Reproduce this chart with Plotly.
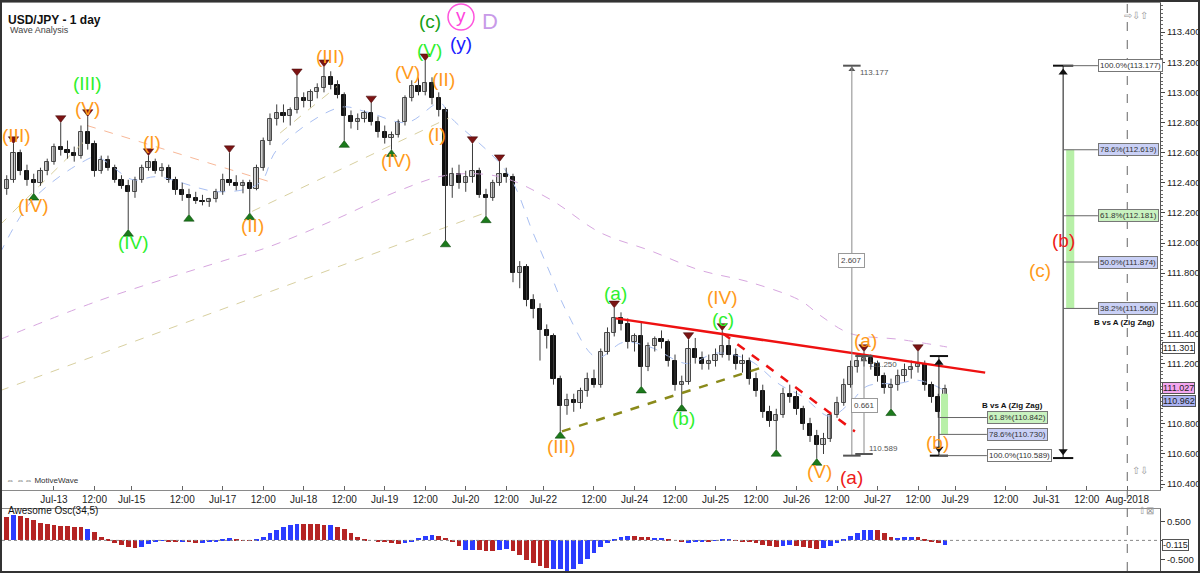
import plotly.graph_objects as go

# ---------------- data (2-hour bars, x = trading hours since Jul-13 00:00) ----------------
bar_hour = list(range(-16, 266, 2))
bar_open = [
    112.30, 112.36, 112.42, 112.60, 112.48, 112.42, 112.40, 112.48, 112.54, 112.64,
    112.62, 112.60, 112.58, 112.74, 112.66, 112.48, 112.55, 112.50, 112.42, 112.38,
    112.34, 112.42, 112.50, 112.54, 112.48, 112.50, 112.42, 112.35, 112.32, 112.30,
    112.28, 112.27, 112.29, 112.34, 112.42, 112.40, 112.38, 112.40, 112.36, 112.50,
    112.68, 112.82, 112.86, 112.84, 112.88, 112.96, 112.94, 113.00, 113.03, 113.10,
    113.05, 112.98, 112.84, 112.80, 112.82, 112.86, 112.80, 112.74, 112.70, 112.72,
    112.80, 112.96, 113.04, 113.00, 113.06, 112.96, 112.88, 112.38, 112.46, 112.40,
    112.44, 112.48, 112.32, 112.30, 112.40, 112.46, 112.44, 111.80, 111.84, 111.62,
    111.56, 111.42, 111.38, 111.10, 110.92, 110.96, 110.94, 111.02, 111.10, 111.06,
    111.28, 111.40, 111.50, 111.46, 111.34, 111.38, 111.18, 111.32, 111.36, 111.34,
    111.22, 111.06, 111.08, 111.30, 111.24, 111.20, 111.22, 111.26, 111.32, 111.26,
    111.20, 111.22, 111.10, 111.02, 110.88, 110.82, 110.86, 111.00, 110.98, 110.90,
    110.80, 110.72, 110.66, 110.70, 110.86, 110.94, 111.06, 111.18, 111.22, 111.24,
    111.20, 111.12, 111.04, 111.06, 111.12, 111.16, 111.18, 111.20, 111.06, 110.98,
    110.88]
bar_high = [
    112.40, 112.45, 112.66, 112.62, 112.52, 112.46, 112.50, 112.56, 112.66, 112.80,
    112.68, 112.64, 112.78, 112.84, 112.68, 112.58, 112.58, 112.52, 112.45, 112.42,
    112.44, 112.52, 112.58, 112.56, 112.53, 112.52, 112.44, 112.40, 112.36, 112.34,
    112.32, 112.30, 112.36, 112.46, 112.60, 112.45, 112.42, 112.42, 112.52, 112.70,
    112.86, 112.92, 112.92, 112.90, 113.11, 113.00, 113.02, 113.06, 113.17, 113.14,
    113.08, 113.00, 112.88, 112.86, 112.88, 112.93, 112.84, 112.78, 112.74, 112.82,
    112.98, 113.08, 113.10, 113.21, 113.10, 113.00, 112.90, 112.50, 112.52, 112.48,
    112.66, 112.50, 112.36, 112.42, 112.54, 112.50, 112.46, 111.88, 111.86, 111.66,
    111.60, 111.46, 111.40, 111.12, 111.00, 111.00, 111.04, 111.14, 111.16, 111.30,
    111.44, 111.57, 111.54, 111.50, 111.40, 111.47, 111.34, 111.38, 111.42, 111.36,
    111.26, 111.12, 111.36, 111.37, 111.28, 111.26, 111.30, 111.42, 111.36, 111.30,
    111.26, 111.24, 111.14, 111.06, 110.92, 110.90, 111.04, 111.06, 111.02, 110.92,
    110.84, 110.76, 110.74, 110.88, 110.98, 111.10, 111.22, 111.26, 111.28, 111.26,
    111.22, 111.14, 111.10, 111.16, 111.20, 111.22, 111.28, 111.22, 111.08, 111.00,
    111.06]
bar_low = [
    112.25, 112.32, 112.40, 112.45, 112.38, 112.33, 112.38, 112.45, 112.52, 112.58,
    112.56, 112.54, 112.56, 112.62, 112.44, 112.46, 112.48, 112.40, 112.36, 112.09,
    112.30, 112.40, 112.48, 112.46, 112.44, 112.40, 112.32, 112.28, 112.19, 112.26,
    112.25, 112.24, 112.27, 112.32, 112.38, 112.35, 112.33, 112.20, 112.35, 112.48,
    112.65, 112.78, 112.80, 112.78, 112.86, 112.90, 112.90, 112.96, 113.00, 113.02,
    112.96, 112.68, 112.76, 112.75, 112.80, 112.78, 112.70, 112.66, 112.62, 112.70,
    112.78, 112.94, 112.98, 112.98, 112.92, 112.84, 112.02, 112.30, 112.36, 112.34,
    112.40, 112.30, 112.18, 112.28, 112.38, 112.40, 111.74, 111.70, 111.58, 111.50,
    111.22, 111.30, 111.06, 110.75, 110.86, 110.88, 110.90, 110.98, 111.04, 111.04,
    111.26, 111.38, 111.42, 111.30, 111.28, 111.05, 111.15, 111.28, 111.30, 111.18,
    111.02, 110.93, 111.06, 111.20, 111.16, 111.16, 111.18, 111.24, 111.22, 111.16,
    111.14, 111.06, 110.98, 110.84, 110.78, 110.63, 110.84, 110.94, 110.86, 110.76,
    110.68, 110.57, 110.60, 110.68, 110.84, 110.92, 111.04, 111.14, 111.18, 111.16,
    111.08, 111.00, 110.90, 111.02, 111.08, 111.10, 111.14, 111.02, 110.94, 110.84,
    110.86]
bar_close = [
    112.36, 112.42, 112.60, 112.48, 112.42, 112.40, 112.48, 112.54, 112.64, 112.62,
    112.60, 112.58, 112.74, 112.66, 112.48, 112.55, 112.50, 112.42, 112.38, 112.34,
    112.42, 112.50, 112.54, 112.48, 112.50, 112.42, 112.35, 112.32, 112.30, 112.28,
    112.27, 112.29, 112.34, 112.42, 112.40, 112.38, 112.40, 112.36, 112.50, 112.68,
    112.82, 112.86, 112.84, 112.88, 112.96, 112.94, 113.00, 113.03, 113.10, 113.05,
    112.98, 112.84, 112.80, 112.82, 112.86, 112.80, 112.74, 112.70, 112.72, 112.80,
    112.96, 113.04, 113.00, 113.06, 112.96, 112.88, 112.38, 112.46, 112.40, 112.44,
    112.48, 112.32, 112.30, 112.40, 112.46, 112.44, 111.80, 111.84, 111.62, 111.56,
    111.42, 111.38, 111.10, 110.92, 110.96, 110.94, 111.02, 111.10, 111.06, 111.28,
    111.40, 111.50, 111.46, 111.34, 111.38, 111.18, 111.32, 111.36, 111.34, 111.22,
    111.06, 111.08, 111.30, 111.24, 111.20, 111.22, 111.26, 111.32, 111.26, 111.20,
    111.22, 111.10, 111.02, 110.88, 110.82, 110.86, 111.00, 110.98, 110.90, 110.80,
    110.72, 110.66, 110.70, 110.86, 110.94, 111.06, 111.18, 111.22, 111.24, 111.20,
    111.12, 111.04, 111.06, 111.12, 111.16, 111.18, 111.20, 111.06, 110.98, 110.88,
    111.03]

# Awesome oscillator (34,5)
ao_value = [
    0.62, 0.60, 0.66, 0.64, 0.58, 0.52, 0.46, 0.42, 0.40, 0.38,
    0.37, 0.36, 0.34, 0.30, 0.22, 0.10, 0.02, -0.06, -0.12, -0.18,
    -0.20, -0.16, -0.10, -0.04, -0.01, -0.02, -0.04, -0.03, -0.05, -0.07,
    -0.06, -0.04, -0.02, 0.02, 0.05, 0.04, 0.01, -0.01, 0.02, 0.08,
    0.18, 0.28, 0.35, 0.40, 0.42, 0.44, 0.43, 0.42, 0.40, 0.40,
    0.36, 0.30, 0.20, 0.10, 0.02, 0.00, -0.02, -0.04, -0.07, -0.10,
    -0.08, -0.02, 0.06, 0.12, 0.14, 0.12, 0.06, -0.05, -0.14, -0.26,
    -0.25, -0.26, -0.28, -0.27, -0.24, -0.22, -0.28, -0.38, -0.50, -0.60,
    -0.68, -0.72, -0.74, -0.76, -0.80, -0.74, -0.62, -0.48, -0.32, -0.18,
    -0.06, 0.04, 0.10, 0.12, 0.11, 0.10, 0.08, 0.06, 0.07, 0.04,
    0.00, -0.04, -0.06, -0.04, -0.03, -0.02, -0.01, 0.02, 0.03, 0.01,
    -0.02, -0.05, -0.08, -0.12, -0.15, -0.17, -0.15, -0.13, -0.15, -0.18,
    -0.20, -0.22, -0.20, -0.14, -0.06, 0.04, 0.12, 0.20, 0.26, 0.28,
    0.26, 0.18, 0.10, 0.07, 0.08, 0.09, 0.08, 0.02, -0.04, -0.08,
    -0.115]
ao_color = list("RRBRRRRRRR" "RRRBRRRRRR" "RBBBBRRBRR" "BBBBBRRRBB" "BBBBBRRRRB"
                "RRRRRBRRRR" "BBBBBRRRRB" "BRRRBBRRRR" "RRBBBBBBBB" "BBBBRRRBBR"
                "RRBBBRBBBR" "RRRRRRBBRR" "RRBBBBBBBB" "RRRBBBRRRR" "B")

# moving averages (hour, price)
ma_fast_hour = [-16, -6.2, 8.6, 12.7, 23.4, 30.5, 49.2, 61.0, 66.1, 84.7, 92.7, 104.6, 114.4,
                117.3, 134.2, 141.9, 147.0, 152.0, 160.9, 168.6, 176.6, 187.6, 196.4, 206.2,
                215.1, 221.9, 229.9, 235.9, 240.9, 250.7, 255.7, 260.4, 264.6]
ma_fast_price = [111.93, 112.29, 112.54, 112.57, 112.42, 112.44, 112.34, 112.40, 112.62, 112.90,
                 112.87, 112.80, 112.93, 112.84, 112.47, 112.07, 111.80, 111.54, 111.24, 111.34,
                 111.31, 111.20, 111.27, 111.22, 111.06, 110.98, 110.85, 110.94, 111.05, 111.07,
                 111.09, 111.06, 111.01]
ma_slow_hour = [-16, 13.6, 51.3, 63.1, 82.7, 102.5, 116.4, 132.1, 147.0, 161.8, 176.6, 191.4,
                206.2, 221.0, 227.0, 235.9, 250.7, 264.6]
ma_slow_price = [111.36, 111.62, 111.89, 111.97, 112.15, 112.35, 112.45, 112.44, 112.29, 112.07,
                 111.95, 111.82, 111.74, 111.62, 111.52, 111.40, 111.36, 111.31]

# swing markers
swing_high_hour = [-12, 2, 10, 28, 52, 72, 80, 94, 110, 124, 132, 166, 188, 198, 240, 256]
swing_high_price = [112.66, 112.80, 112.84, 112.58, 112.60, 113.11, 113.17, 112.93, 113.21,
                    112.66, 112.54, 111.57, 111.36, 111.42, 111.28, 111.28]
swing_low_hour = [-6, 22, 40, 58, 86, 100, 116, 128, 150, 174, 186, 214, 226, 248]
swing_low_price = [112.33, 112.09, 112.19, 112.20, 112.68, 112.62, 112.02, 112.18, 110.75,
                   111.05, 110.93, 110.63, 110.57, 110.90]

# trend lines: (hour0, price0, hour1, price1, color, width, dash)
trend_lines = [
    (-16, 111.02, 127.7, 112.20, "#d8d0a0", 1, "dash"),
    (-16, 112.12, 9.2, 112.68, "#d8d0a0", 1, "dash"),
    (67.0, 112.73, 83.9, 113.04, "#d8d0a0", 1, "dash"),
    (58.7, 112.21, 117.0, 112.83, "#d8d0a0", 1, "dash"),
    (9.8, 112.78, 64.9, 112.40, "#f8b898", 1, "dash"),
    (150.5, 110.75, 209.2, 111.17, "#8a8a1a", 2.5, "dash"),
    (166.5, 111.50, 275.9, 111.14, "#ee1111", 2.5, "solid"),
    (198.2, 111.40, 237.3, 110.75, "#ee1111", 2.5, "dash"),
]

# axis ticks
tick_hour = [0, 12, 23, 38, 50, 62, 74, 86, 98, 110, 122, 134, 145, 160, 172, 184, 196, 208,
             220, 232, 244, 256, 267, 282, 294, 306, 318]
tick_text = ["Jul-13", "12:00", "Jul-15", "12:00", "Jul-17", "12:00", "Jul-18", "12:00",
             "Jul-19", "12:00", "Jul-20", "12:00", "Jul-22", "12:00", "Jul-24", "12:00",
             "Jul-25", "12:00", "Jul-26", "12:00", "Jul-27", "12:00", "Jul-29", "12:00",
             "Jul-31", "12:00", "Aug-2018"]
price_ticks = [110.4, 110.6, 110.8, 111.0, 111.2, 111.4, 111.6, 111.8, 112.0, 112.2, 112.4,
               112.6, 112.8, 113.0, 113.2, 113.4]
price_tick_text = ["110.400", "110.600", "110.800", "", "111.200", "111.400", "111.600",
                   "111.800", "112.000", "112.200", "112.400", "112.600", "112.800", "113.000",
                   "113.200", "113.400"]

# wave labels (text, colour key, hour, price)
wave_labels = [
    ("(III)", "o", -11, 112.716), ("(IV)", "o", -6.2, 112.252), ("(III)", "g", 9.8, 113.062),
    ("(V)", "o", 9.8, 112.896), ("(I)", "o", 29, 112.664), ("(IV)", "g", 23.7, 112.006),
    ("(II)", "o", 58.7, 112.119), ("(III)", "o", 81.8, 113.235), ("(IV)", "o", 101.6, 112.551),
    ("(V)", "o", 104.6, 113.135), ("(V)", "g", 111.4, 113.281), ("(c)", "dg", 111.4, 113.467),
    ("(y)", "b", 120.6, 113.327), ("D", "l", 129.2, 113.467), ("(II)", "o", 115.3, 113.082),
    ("(I)", "o", 113.5, 112.717), ("(a)", "g", 166.5, 111.666), ("(III)", "o", 150.5, 110.647),
    ("(b)", "g", 186.4, 110.838), ("(IV)", "o", 198.2, 111.636), ("(c)", "g", 198.2, 111.49),
    ("(V)", "o", 226.7, 110.481), ("(a)", "r", 236.4, 110.441), ("(a)", "o", 240.3, 111.35),
    ("(b)", "o", 261.9, 110.673), ("(b)", "r", 299.0, 112.02), ("(c)", "o", 292.1, 111.82),
]
circled_label = ("y", 120.6, 113.50)

# Fibonacci levels
fib_big = [("100.0%(113.177)", 113.177, "w"), ("78.6%(112.619)", 112.619, "b"),
           ("61.8%(112.181)", 112.181, "g"), ("50.0%(111.874)", 111.874, "b"),
           ("38.2%(111.566)", 111.566, "b")]
fib_big_base = 110.573
fib_small = [("61.8%(110.842)", 110.842, "g"), ("78.6%(110.730)", 110.730, "b"),
             ("100.0%(110.589)", 110.589, "w")]
fib_small_top = 111.25
fib_small_zone = (110.73, 111.00)
fib_big_zone = (111.566, 112.619)

measure_1 = (236.4, 110.589, 113.177, "2.607")
measure_2 = (240.0, 110.60, 111.25, "0.661")

last_labels = [("111.301", 111.301, "#ffffff", 0), ("111.027", 111.027, "#f4a6f0", 2),
               ("110.962", 110.962, "#aab2f2", -2)]
ao_last = -0.115

# ---------------- figure ----------------
PLOT_L, PLOT_W, H = 2, 1158, 573
X_RANGE = [-15.4, 327.7]
def px_x(px):
    return (px - PLOT_L) / PLOT_W
def px_y(py):
    return (H - py) / H

COL = {"o": "#ff9a1a", "g": "#2ef02e", "dg": "#16a016", "b": "#1a1aff", "l": "#c89ae8",
       "r": "#ee1a1a"}
FIBBG = {"w": "#ffffff", "b": "#c9d0f6", "g": "#c9f2c0"}
FONT = "Arial, Liberation Sans, sans-serif"

fig = go.Figure()

# moving averages
fig.add_trace(go.Scatter(x=ma_slow_hour, y=ma_slow_price, mode="lines",
                         line=dict(color="#d7a6df", width=1, dash="dash", shape="spline"),
                         hoverinfo="skip"))
fig.add_trace(go.Scatter(x=ma_fast_hour, y=ma_fast_price, mode="lines",
                         line=dict(color="#a9bff2", width=1, dash="dash", shape="spline"),
                         hoverinfo="skip"))

# trend lines (drawn below candles)
for h0, p0, h1, p1, c, w, d in trend_lines[:5]:
    fig.add_trace(go.Scatter(x=[h0, h1], y=[p0, p1], mode="lines",
                             line=dict(color=c, width=w, dash=d), hoverinfo="skip"))

# candles: wicks
wx, wy = [], []
for h, hi, lo in zip(bar_hour, bar_high, bar_low):
    wx += [h, h, None]
    wy += [lo, hi, None]
fig.add_trace(go.Scatter(x=wx, y=wy, mode="lines", line=dict(color="#3c3c3c", width=1),
                         hoverinfo="skip"))
ux, ub, uh, dx, db, dh = [], [], [], [], [], []
for h, o, c in zip(bar_hour, bar_open, bar_close):
    size = max(abs(c - o), 0.006)
    if c >= o:
        ux.append(h); ub.append(min(o, c)); uh.append(size)
    else:
        dx.append(h); db.append(min(o, c)); dh.append(size)
fig.add_trace(go.Bar(x=ux, y=uh, base=ub, width=1.25,
                     marker=dict(color="#d2d2d2", line=dict(color="#4a4a4a", width=1)),
                     hoverinfo="skip"))
fig.add_trace(go.Bar(x=dx, y=dh, base=db, width=1.25,
                     marker=dict(color="#111111", line=dict(color="#111111", width=1)),
                     hoverinfo="skip"))

for h0, p0, h1, p1, c, w, d in trend_lines[5:]:
    fig.add_trace(go.Scatter(x=[h0, h1], y=[p0, p1], mode="lines",
                             line=dict(color=c, width=w, dash=d), hoverinfo="skip"))

# swing markers
fig.add_trace(go.Scatter(x=swing_high_hour, y=[p + 0.03 for p in swing_high_price],
                         mode="markers",
                         marker=dict(symbol="triangle-down", size=9, color="#7c1414",
                                     line=dict(color="#3a0000", width=0.5)),
                         hoverinfo="skip"))
fig.add_trace(go.Scatter(x=swing_low_hour, y=[p - 0.03 for p in swing_low_price],
                         mode="markers",
                         marker=dict(symbol="triangle-up", size=9, color="#1c7a1c",
                                     line=dict(color="#003a00", width=0.5)),
                         hoverinfo="skip"))

# awesome oscillator
fig.add_trace(go.Bar(x=bar_hour, y=ao_value, width=1.4,
                     marker=dict(color=["#b52424" if c == "R" else "#2b3cff" for c in ao_color],
                                 line=dict(width=0)),
                     xaxis="x2", yaxis="y2", hoverinfo="skip"))

shapes = []
ann = []

# measurement lines
for hx, lo, hi, txt in [measure_1, measure_2]:
    shapes.append(dict(type="line", xref="x", yref="y", x0=hx, x1=hx, y0=lo, y1=hi,
                       line=dict(color="#8a8a8a", width=1)))
    shapes.append(dict(type="line", xref="x", yref="y", x0=hx - 2.6, x1=hx + 2.6, y0=hi, y1=hi,
                       line=dict(color="#555", width=2)))
    shapes.append(dict(type="line", xref="x", yref="y", x0=hx - 2.6, x1=hx + 2.6, y0=lo, y1=lo,
                       line=dict(color="#555", width=2)))
    ann.append(dict(x=hx, y=(lo + hi) / 2, xref="x", yref="y", text=txt, showarrow=False,
                    font=dict(size=8, color="#444", family=FONT), bgcolor="#ffffff",
                    bordercolor="#999", borderwidth=1, borderpad=2))
ann.append(dict(x=measure_1[0] + 1.8, y=measure_1[2], xref="x", yref="y", text="113.177",
                showarrow=False, xanchor="left", yanchor="top",
                font=dict(size=8, color="#555", family=FONT)))
ann.append(dict(x=measure_2[0] + 1.0, y=measure_2[2] - 0.01, xref="x", yref="y",
                text="111.250", showarrow=False, xanchor="left", yanchor="top",
                font=dict(size=8, color="#555", family=FONT)))
ann.append(dict(x=measure_2[0] + 1.0, y=110.634, xref="x", yref="y", text="110.589",
                showarrow=False, xanchor="left",
                font=dict(size=8, color="#555", family=FONT)))
fig.add_trace(go.Scatter(x=[measure_1[0], measure_2[0]], y=[measure_1[2] - 0.025, measure_2[2] - 0.025],
                         mode="markers", marker=dict(symbol="triangle-up", size=6, color="#555"),
                         hoverinfo="skip"))

# big fib arrow (right)
AX_BIG, LBL_BIG = 299.0, 309.3
shapes.append(dict(type="rect", xref="x", yref="y", x0=299.9, x1=302.3,
                   y0=fib_big_zone[0], y1=fib_big_zone[1],
                   fillcolor="#b8f0a8", line=dict(width=0)))
shapes.append(dict(type="line", xref="x", yref="y", x0=AX_BIG, x1=AX_BIG, y0=fib_big_base,
                   y1=fib_big[0][1], line=dict(color="#111", width=1)))
for yv in [fib_big[0][1], fib_big_base]:
    shapes.append(dict(type="line", xref="x", yref="y", x0=AX_BIG - 3, x1=AX_BIG + 3, y0=yv, y1=yv,
                       line=dict(color="#111", width=2)))
for txt, yv, bg in fib_big:
    shapes.append(dict(type="line", xref="x", yref="y", x0=AX_BIG, x1=LBL_BIG, y0=yv, y1=yv,
                       line=dict(color="#666", width=1)))
    ann.append(dict(x=LBL_BIG, y=yv, xref="x", yref="y", text=txt, showarrow=False,
                    xanchor="left", font=dict(size=8, color="#333", family=FONT),
                    bgcolor=FIBBG[bg], bordercolor="#777", borderwidth=1, borderpad=1))
ann.append(dict(x=317.3, y=111.475, xref="x", yref="y", text="<b>B vs A (Zig Zag)</b>",
                showarrow=False, font=dict(size=8, color="#111", family=FONT)))

# small fib arrow
AX_SM, LBL_SM = 262.2, 276.4
shapes.append(dict(type="rect", xref="x", yref="y", x0=262.8, x1=264.9,
                   y0=fib_small_zone[0], y1=fib_small_zone[1],
                   fillcolor="#b8f0a8", line=dict(width=0)))
shapes.append(dict(type="line", xref="x", yref="y", x0=AX_SM, x1=AX_SM, y0=fib_small[-1][1],
                   y1=fib_small_top, line=dict(color="#111", width=1)))
for yv in [fib_small_top, fib_small[-1][1]]:
    shapes.append(dict(type="line", xref="x", yref="y", x0=AX_SM - 2.7, x1=AX_SM + 2.7, y0=yv, y1=yv,
                       line=dict(color="#111", width=2)))
for txt, yv, bg in fib_small:
    shapes.append(dict(type="line", xref="x", yref="y", x0=AX_SM, x1=LBL_SM, y0=yv, y1=yv,
                       line=dict(color="#666", width=1)))
    ann.append(dict(x=LBL_SM, y=yv, xref="x", yref="y", text=txt, showarrow=False,
                    xanchor="left", font=dict(size=8, color="#333", family=FONT),
                    bgcolor=FIBBG[bg], bordercolor="#777", borderwidth=1, borderpad=1))
ann.append(dict(x=284.1, y=110.92, xref="x", yref="y", text="<b>B vs A (Zig Zag)</b>",
                showarrow=False, font=dict(size=8, color="#111", family=FONT)))
fig.add_trace(go.Scatter(x=[AX_BIG, AX_SM], y=[fib_big[0][1] - 0.045, fib_small_top - 0.045],
                         mode="markers", marker=dict(symbol="triangle-up", size=8, color="#111"),
                         hoverinfo="skip"))
fig.add_trace(go.Scatter(x=[AX_BIG, AX_SM], y=[fib_big_base + 0.045, fib_small[-1][1] + 0.045],
                         mode="markers", marker=dict(symbol="triangle-down", size=8, color="#111"),
                         hoverinfo="skip"))

# wave labels
for txt, ck, hx, pv in wave_labels:
    ann.append(dict(x=hx, y=pv, xref="x", yref="y", text=txt, showarrow=False,
                    font=dict(size=19 if txt != "D" else 22, color=COL[ck], family=FONT)))
ann.append(dict(x=circled_label[1], y=circled_label[2], xref="x", yref="y", text=circled_label[0],
                showarrow=False, yshift=2, font=dict(size=19, color="#ff44dd", family=FONT)))
shapes.append(dict(type="circle", xref="x", yref="y", xsizemode="pixel", ysizemode="pixel",
                   xanchor=circled_label[1], yanchor=circled_label[2],
                   x0=-13, x1=13, y0=-13, y1=13, line=dict(color="#ff55dd", width=1.5)))

# dashed vertical at Aug-2018
shapes.append(dict(type="line", xref="x", yref="paper", x0=318, x1=318, y0=px_y(571), y1=px_y(3),
                   line=dict(color="#666", width=1, dash="dash")))
# oscillator zero line
shapes.append(dict(type="line", xref="x2", yref="y2", x0=X_RANGE[0], x1=X_RANGE[1], y0=0, y1=0,
                   line=dict(color="#888", width=1, dash="dot")))
# outer frame
shapes.append(dict(type="rect", xref="paper", yref="paper", x0=px_x(1), x1=px_x(1199),
                   y0=px_y(572), y1=px_y(1), line=dict(color="#333", width=2)))

# right-side value boxes
for txt, yv, bg, shift in last_labels:
    ann.append(dict(x=1.0, y=yv, xref="paper", yref="y", text=txt, showarrow=False,
                    xanchor="left", xshift=2, yshift=shift,
                    font=dict(size=9, color="#222", family=FONT),
                    bgcolor=bg, bordercolor="#555", borderwidth=1, borderpad=0))
ann.append(dict(x=1.0, y=ao_last, xref="paper", yref="y2", text="%.3f" % ao_last, showarrow=False,
                xanchor="left", xshift=2, font=dict(size=9, color="#222", family=FONT),
                bgcolor="#ffffff", bordercolor="#555", borderwidth=1, borderpad=0))

# titles / misc text
ann.append(dict(x=px_x(6), y=px_y(11), xref="paper", yref="paper", text="<b>USD/JPY - 1 day</b>",
                showarrow=False, xanchor="left", font=dict(size=12, color="#111", family=FONT)))
ann.append(dict(x=px_x(8), y=px_y(23), xref="paper", yref="paper", text="Wave Analysis",
                showarrow=False, xanchor="left", font=dict(size=9, color="#444", family=FONT)))
ann.append(dict(x=px_x(4), y=px_y(487), xref="paper", yref="paper",
                text="\u21d4 \u21d4\u21d4 MotiveWave", showarrow=False, xanchor="left",
                font=dict(size=8, color="#333", family=FONT)))
ann.append(dict(x=px_x(6), y=px_y(518), xref="paper", yref="paper",
                text="Awesome Osc(34,5)", showarrow=False, xanchor="left",
                font=dict(size=10, color="#111", family=FONT)))
ann.append(dict(x=px_x(1150), y=px_y(8), xref="paper", yref="paper",
                text="\u21e8\u21e9\u21e7", showarrow=False, xanchor="right",
                font=dict(size=10, color="#999", family=FONT)))
ann.append(dict(x=px_x(1150), y=px_y(478), xref="paper", yref="paper",
                text="\u21e7\u21e9", showarrow=False, xanchor="right",
                font=dict(size=10, color="#999", family=FONT)))
ann.append(dict(x=px_x(1156), y=px_y(518), xref="paper", yref="paper",
                text="\u21e7\u22a0", showarrow=False, xanchor="right",
                font=dict(size=10, color="#999", family=FONT)))

fig.update_layout(
    width=1200, height=573,
    margin=dict(l=PLOT_L, r=1200 - PLOT_L - PLOT_W, t=0, b=0),
    paper_bgcolor="#ffffff", plot_bgcolor="#ffffff",
    showlegend=False, barmode="overlay", bargap=0,
    font=dict(family=FONT),
    xaxis=dict(domain=[0, 1], range=X_RANGE, anchor="y", tickvals=tick_hour,
               ticktext=tick_text, ticks="inside", ticklen=4, tickcolor="#666",
               tickfont=dict(size=10, color="#222"), showgrid=False, zeroline=False,
               showline=True, linecolor="#8a8a8a", mirror=True, automargin=False),
    yaxis=dict(domain=[px_y(490), px_y(3)], range=[110.361, 113.593], side="right",
               tickvals=price_ticks, ticktext=price_tick_text, ticks="outside", ticklen=4,
               tickcolor="#444", tickfont=dict(size=9.5, color="#222"),
               minor=dict(dtick=0.025, ticks="outside", ticklen=2, tickcolor="#666"),
               showgrid=False, zeroline=False, showline=True, linecolor="#555", mirror=True,
               automargin=False),
    xaxis2=dict(domain=[0, 1], range=X_RANGE, anchor="y2", matches="x",
                showticklabels=False, ticks="", showgrid=False, zeroline=False,
                showline=True, linecolor="#8a8a8a", mirror=True, automargin=False),
    yaxis2=dict(domain=[px_y(571), px_y(509)], range=[-0.80, 0.82], side="right",
                tickvals=[0.5, 0.0, -0.5], ticktext=["0.500", "", "-0.500"], ticks="outside",
                ticklen=4, tickcolor="#444", tickfont=dict(size=9.5, color="#222"),
                showgrid=False, zeroline=False, showline=True, linecolor="#555", mirror=True,
                automargin=False),
    shapes=shapes, annotations=ann,
)

fig.write_html("out.html", config={"displayModeBar": False},
               post_script="document.body.style.margin='0px';document.body.style.padding='0px';")
